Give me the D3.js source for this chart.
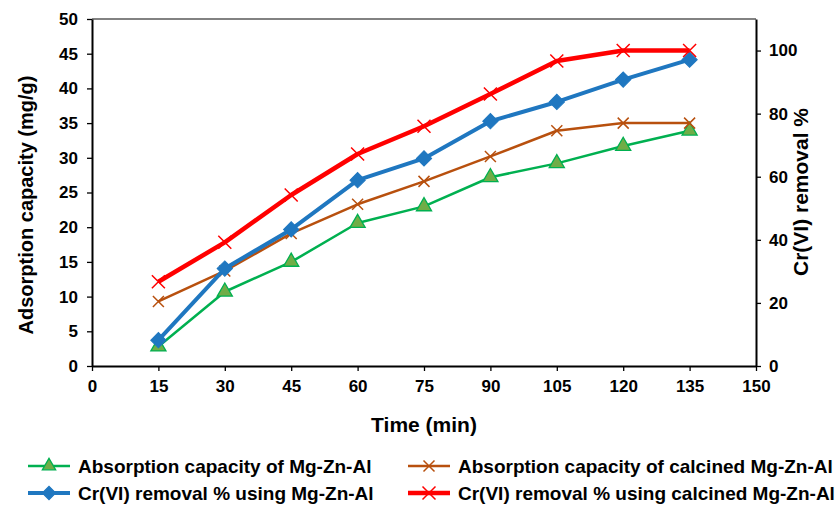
<!DOCTYPE html>
<html>
<head>
<meta charset="utf-8">
<script src="https://cdn.jsdelivr.net/npm/d3@7"></script>
<style>
  body { margin: 0; background: #fff; }
  svg { font-family: "Liberation Sans", Arial, sans-serif; font-weight: bold; }
</style>
</head>
<body>
<svg width="840" height="505"></svg>
<script>
// data
const times = [15, 30, 45, 60, 75, 90, 105, 120, 135];
const capMgZnAl = [2.8, 10.7, 15.0, 20.6, 23.0, 27.2, 29.2, 31.7, 33.9];
const capCalcined = [9.3, 13.7, 19.1, 23.3, 26.6, 30.2, 33.9, 35.0, 35.0];
const remMgZnAl = [8.2, 30.9, 43.3, 58.9, 65.8, 77.6, 83.7, 90.8, 97.1];
const remCalcined = [26.7, 39.2, 54.2, 67.2, 76.0, 86.2, 96.7, 100.0, 100.0];

const xTicks = [0, 15, 30, 45, 60, 75, 90, 105, 120, 135, 150];
const yLeftTicks = [0, 5, 10, 15, 20, 25, 30, 35, 40, 45, 50];
const yRightTicks = [0, 20, 40, 60, 80, 100];

const series = [
  { name: "Absorption capacity of Mg-Zn-Al", values: capMgZnAl, axis: "left",
    color: "#00B050", fill: "#70AD47", width: 2.5, marker: "triangle" },
  { name: "Absorption capacity of calcined Mg-Zn-Al", values: capCalcined, axis: "left",
    color: "#B8500E", fill: "none", width: 2.5, marker: "x" },
  { name: "Cr(VI) removal % using Mg-Zn-Al", values: remMgZnAl, axis: "right",
    color: "#1F77C0", fill: "#1F77C0", width: 4, marker: "diamond" },
  { name: "Cr(VI) removal % using calcined Mg-Zn-Al", values: remCalcined, axis: "right",
    color: "#FF0000", fill: "none", width: 4.5, marker: "xbig" }
];

const svg = d3.select("svg");
const margin = { left: 92, right: 84, top: 19, bottom: 139 };
const width = +svg.attr("width");
const height = +svg.attr("height");

const x = d3.scaleLinear().domain([0, 150]).range([margin.left, width - margin.right]);
const yL = d3.scaleLinear().domain([0, 50]).range([height - margin.bottom, margin.top]);
const yR = d3.scaleLinear().domain([0, 110]).range([height - margin.bottom, margin.top]);

// top border
svg.append("line")
  .attr("x1", x(0)).attr("x2", x(150))
  .attr("y1", yL(50)).attr("y2", yL(50))
  .attr("stroke", "#595959").attr("stroke-width", 1.5);

const styleAxis = (g) => {
  g.select(".domain").attr("stroke", "#000").attr("stroke-width", 2);
  g.selectAll(".tick line").attr("stroke", "#000").attr("stroke-width", 1.3);
  g.selectAll(".tick text").attr("fill", "#000")
    .style("font-size", "17px").style("font-weight", "bold")
    .style("font-family", "'Liberation Sans', Arial, sans-serif");
};

svg.append("g")
  .attr("transform", `translate(0,${yL(0)})`)
  .call(d3.axisBottom(x).tickValues(xTicks).tickSize(5).tickSizeOuter(0).tickPadding(9))
  .call(styleAxis);

svg.append("g")
  .attr("transform", `translate(${x(0)},0)`)
  .call(d3.axisLeft(yL).tickValues(yLeftTicks).tickSize(5).tickSizeOuter(0).tickPadding(9))
  .call(styleAxis);

svg.append("g")
  .attr("transform", `translate(${x(150)},0)`)
  .call(d3.axisRight(yR).tickValues(yRightTicks).tickSize(5).tickSizeOuter(0).tickPadding(8))
  .call(styleAxis);

// axis titles
svg.append("text")
  .attr("transform", `translate(26,205) rotate(-90)`)
  .attr("text-anchor", "middle").attr("dy", "0.35em")
  .style("font-size", "20px")
  .text("Adsorption capacity (mg/g)");

svg.append("text")
  .attr("transform", `translate(801,192) rotate(-90)`)
  .attr("text-anchor", "middle").attr("dy", "0.35em")
  .style("font-size", "21px")
  .text("Cr(VI) removal %");

svg.append("text")
  .attr("x", (x(0) + x(150)) / 2).attr("y", 425)
  .attr("text-anchor", "middle").attr("dy", "0.35em")
  .style("font-size", "21px")
  .text("Time (min)");

const drawMarker = (g, s, size) => {
  if (s.marker === "triangle") {
    g.append("path").attr("d", d3.symbol(d3.symbolTriangle, size * 11)())
      .attr("fill", s.fill).attr("stroke", s.color).attr("stroke-width", 1.3);
  } else if (s.marker === "diamond") {
    g.append("path").attr("d", d3.symbol(d3.symbolSquare, size * 13)())
      .attr("transform", "rotate(45)")
      .attr("fill", s.fill).attr("stroke", s.color).attr("stroke-width", 1);
  } else {
    const r = s.marker === "xbig" ? 6.5 : 5.5;
    g.append("path").attr("d", `M${-r},${-r}L${r},${r}M${-r},${r}L${r},${-r}`)
      .attr("stroke", s.color).attr("stroke-width", 1.5).attr("fill", "none");
  }
};

series.forEach((s) => {
  const ys = s.axis === "left" ? yL : yR;
  const pts = times.map((t, i) => [t, s.values[i]]);
  svg.append("path")
    .datum(pts)
    .attr("fill", "none")
    .attr("stroke", s.color)
    .attr("stroke-width", s.width)
    .attr("stroke-linejoin", "round")
    .attr("d", d3.line().x((d) => x(d[0])).y((d) => ys(d[1])));
  svg.append("g").selectAll("g")
    .data(pts)
    .join("g")
    .attr("transform", (d) => `translate(${x(d[0])},${ys(d[1])})`)
    .each(function () { drawMarker(d3.select(this), s, 9); });
});

// legend
const legendPos = [[28, 466], [408, 466], [28, 493], [408, 493]];
series.forEach((s, i) => {
  const [lx, ly] = legendPos[i];
  const g = svg.append("g").attr("transform", `translate(${lx},${ly})`);
  g.append("line").attr("x1", 0).attr("x2", 42).attr("y1", 0).attr("y2", 0)
    .attr("stroke", s.color).attr("stroke-width", s.width);
  const m = g.append("g").attr("transform", "translate(21,0)");
  drawMarker(m, s, 7);
  g.append("text").attr("x", 50).attr("dy", "0.35em")
    .style("font-size", "19px")
    .text(s.name);
});
</script>
</body>
</html>
